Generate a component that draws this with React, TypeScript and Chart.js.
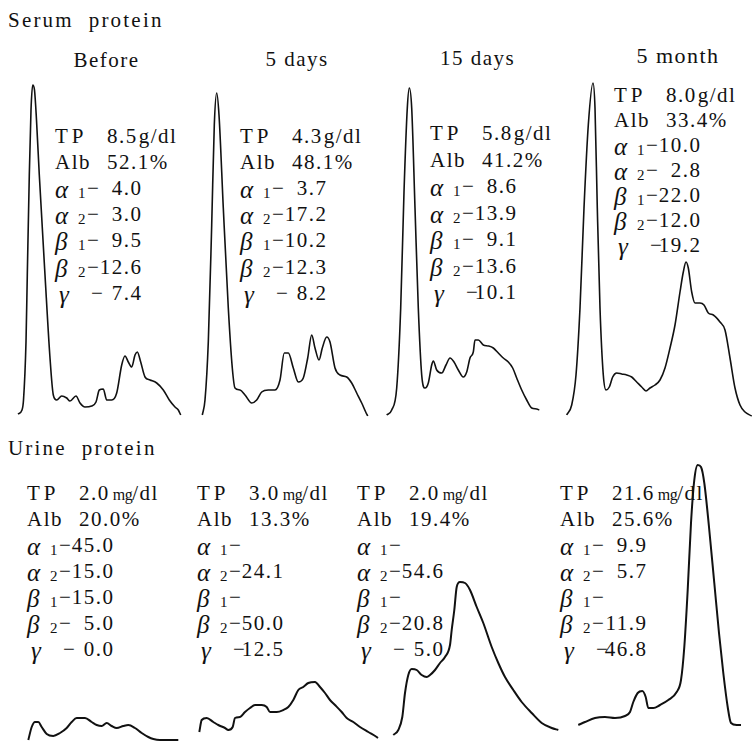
import React, { useEffect, useRef } from "react";
import { Chart, registerables } from "chart.js";

Chart.register(...registerables);

// ---- Densitometry traces (x: migration distance, y: relative density) ----
const serumBeforeTrace: number[][] = [
  [8, 6], [12, 10], [13.5, 20], [16, 78], [17.3, 145], [19.3, 245], [21, 310], [22.7, 335], [24.5, 330],
  [26.5, 300], [29.3, 245], [35, 145], [40, 62], [43.3, 25], [46.7, 20], [51.7, 24], [56.7, 22], [60, 19],
  [66, 24], [70, 17], [75, 13], [81.7, 14], [86, 18], [89.3, 30], [93.3, 31], [96.7, 20], [101.7, 20],
  [106.7, 27], [111.7, 55], [115, 64], [118.3, 58], [121.7, 53], [125, 65], [127.3, 68], [130.7, 58],
  [135, 43], [140, 40], [146.7, 37], [153.3, 30], [159.3, 20], [165, 13], [168.3, 10], [170.7, 5],
];
const serum5dTrace: number[][] = [
  [7.3, 5], [10, 20], [13.3, 78], [16.7, 195], [19.3, 295], [21.7, 327], [24, 305], [28.3, 212], [33.3, 112],
  [37.3, 52], [40, 32], [45, 30], [50, 25], [56.7, 17], [61.7, 20], [66.7, 28], [73.3, 30], [80, 30], [85, 40],
  [89.3, 67], [93.3, 67], [98.3, 52], [103.3, 38], [108.3, 42], [112.7, 62], [116.7, 85], [120, 72], [124, 60],
  [127.3, 72], [131.7, 83], [135, 78], [140, 52], [145, 45], [151.7, 43], [156.7, 37], [161.7, 27], [166.7, 17],
  [170.7, 8], [172.7, 4],
];
const serum15dTrace: number[][] = [
  [6.7, 5], [11.7, 10], [16.7, 32], [20.7, 112], [24, 228], [27.3, 312], [29.3, 332], [31.7, 312], [35, 212],
  [38.3, 112], [41.7, 45], [45, 32], [48.3, 37], [51.7, 55], [53.3, 59], [56.7, 50], [61.7, 47], [66, 55],
  [70, 62], [74, 58], [78.3, 50], [83.3, 43], [86.7, 48], [90, 62], [93.3, 68], [95, 80], [98.3, 80],
  [103.3, 75], [108.3, 74], [113.3, 72], [118.3, 67], [123.3, 62], [128.3, 58], [132.7, 52], [136.7, 42],
  [141.7, 30], [146.7, 20], [151.7, 12], [156.7, 11], [159.3, 10],
];
const serum5mTrace: number[][] = [
  [6.7, 5], [11.7, 15], [16, 45], [20, 112], [24, 212], [28.3, 295], [33, 337], [35, 312], [37.3, 212],
  [40, 112], [43.3, 45], [46, 30], [49.3, 33], [52.7, 43], [56.7, 47], [61.7, 46], [66.7, 45], [71.7, 43],
  [76.7, 38], [81.7, 33], [86, 29], [90, 32], [95, 35], [100, 40], [105, 52], [110, 72], [115, 95], [120, 128],
  [123.3, 148], [126, 158], [128.3, 152], [131.7, 128], [135, 117], [140, 117], [144, 115], [148.3, 107],
  [153.3, 105], [160, 98], [165, 90], [170, 62], [175, 32], [180, 15], [185, 8], [191.7, 4],
];
const urineBeforeTrace: number[][] = [
  [18.3, 2], [21.7, 15], [25, 20], [28.3, 20], [31.7, 15], [36.7, 8], [43.3, 6], [50, 9], [56.7, 14],
  [61.7, 20], [66.7, 24], [75, 24], [81.7, 20], [86.7, 17], [91.7, 16], [96.7, 19], [101.7, 16], [106.7, 14],
  [113.3, 16], [118.3, 17], [125, 14], [131.7, 9], [138.3, 5], [143.3, 3], [150, 2], [160, 2], [168.3, 2],
];
const urine5dTrace: number[][] = [
  [9.3, 10], [11.7, 22], [16.7, 24], [23.3, 20], [28.3, 17], [35, 14], [38.3, 12], [42.7, 15], [45, 24],
  [50, 25], [55, 30], [60, 34], [65, 37], [71.7, 37], [76.7, 35], [80, 30], [86.7, 30], [93.3, 32],
  [98.3, 35], [103.3, 42], [108.3, 52], [113.3, 55], [118.3, 59], [125, 60], [130, 55], [135, 49], [140, 42],
  [145, 37], [151.7, 30], [156.7, 24], [163.3, 20], [170, 15], [178.3, 10], [186.7, 5], [188, 4],
];
const urine15dTrace: number[][] = [
  [13.3, 7], [18.3, 12], [22.3, 25], [25, 49], [28.3, 67], [31.7, 73], [36.7, 72], [41.7, 67], [46.7, 65],
  [50, 67], [55, 72], [60, 79], [65, 85], [70, 97], [71.7, 112], [74.3, 132], [76.7, 155], [80, 160],
  [85, 159], [90, 152], [96.7, 135], [103.3, 119], [111.7, 95], [118.3, 79], [125, 65], [133.3, 52],
  [141.7, 40], [151.7, 29], [161.7, 19], [171.7, 14], [178.3, 12],
];
const urine5mTrace: number[][] = [
  [13.3, 17], [20, 20], [30, 24], [40, 25], [50, 24], [60, 26], [65, 30], [68.3, 40], [72.7, 49], [77.3, 51],
  [80.7, 45], [83.3, 34], [88.3, 34], [95, 37], [103.3, 42], [111.7, 50], [116, 62], [119.3, 95], [122.7, 152],
  [126, 219], [129.3, 262], [132.7, 277], [136, 275], [139.3, 259], [144, 215], [149.3, 159], [154, 109],
  [158.3, 69], [162.7, 35], [166, 19], [171.7, 17], [176, 17],
];

// ---- Text values ----
const serumTitles = ["Before", "5 days", "15 days", "5 month"];
const serumTP = ["8.5", "4.3", "5.8", "8.0"];
const serumAlb = ["52.1", "48.1", "41.2", "33.4"];
const serumAlpha1 = ["4.0", "3.7", "8.6", "10.0"];
const serumAlpha2 = ["3.0", "17.2", "13.9", "2.8"];
const serumBeta1 = ["9.5", "10.2", "9.1", "22.0"];
const serumBeta2 = ["12.6", "12.3", "13.6", "12.0"];
const serumGamma = ["7.4", "8.2", "10.1", "19.2"];

const urineTP = ["2.0", "3.0", "2.0", "21.6"];
const urineAlb = ["20.0", "13.3", "19.4", "25.6"];
const urineAlpha1 = ["45.0", "", "", "9.9"];
const urineAlpha2 = ["15.0", "24.1", "54.6", "5.7"];
const urineBeta1 = ["15.0", "", "", ""];
const urineBeta2 = ["5.0", "50.0", "20.8", "11.9"];
const urineGamma = ["0.0", "12.5", "5.0", "46.8"];

const FONT = "'Liberation Serif', 'DejaVu Serif', serif";

type TraceProps = { left: number; top: number; width: number; height: number; data: number[][]; lineWidth: number };

function Trace({ left, top, width, height, data, lineWidth }: TraceProps) {
  const ref = useRef<HTMLCanvasElement>(null);
  useEffect(() => {
    if (!ref.current) return;
    const chart = new Chart(ref.current, {
      type: "line",
      data: {
        datasets: [
          {
            data: data.map(([x, y]) => ({ x, y })),
            borderColor: "#111",
            borderWidth: lineWidth,
            pointRadius: 0,
            cubicInterpolationMode: "monotone",
            fill: false,
          },
        ],
      },
      options: {
        animation: false,
        responsive: false,
        maintainAspectRatio: false,
        events: [],
        layout: { padding: 0 },
        plugins: { legend: { display: false }, tooltip: { enabled: false }, title: { display: false } },
        scales: {
          x: { type: "linear", min: 0, max: width, display: false },
          y: { type: "linear", min: 0, max: height, display: false },
        },
      },
    });
    return () => chart.destroy();
  }, []);
  return (
    <canvas
      ref={ref}
      width={width}
      height={height}
      style={{ position: "absolute", left, top, width, height }}
    />
  );
}

type TxtProps = {
  x: number;
  y: number;
  children: React.ReactNode;
  size?: number;
  align?: "left" | "right" | "center";
  ls?: number;
  italic?: boolean;
};

function Txt({ x, y, children, size = 21, align = "left", ls = 1.5, italic = false }: TxtProps) {
  const base: React.CSSProperties = {
    position: "absolute",
    top: y,
    lineHeight: 0,
    fontSize: size,
    fontFamily: FONT,
    whiteSpace: "nowrap",
    letterSpacing: ls,
    color: "#111",
    fontStyle: italic ? "italic" : "normal",
  };
  if (align === "left") return <div style={{ ...base, left: x }}>{children}</div>;
  if (align === "right")
    return (
      <div style={{ ...base, left: x - 300 + ls, width: 300, textAlign: "right" }}>{children}</div>
    );
  return <div style={{ ...base, left: x - 150, width: 300, textAlign: "center" }}>{children}</div>;
}

type BlockProps = {
  x0: number;
  y0: number;
  dy: number;
  tp: string;
  unit: "g" | "mg";
  alb: string;
  fr: string[];
};

function Block({ x0, y0, dy, tp, unit, alb, fr }: BlockProps) {
  const greek = ["α", "α", "β", "β", "γ"];
  const subs = ["1", "2", "1", "2", ""];
  return (
    <>
      <Txt x={x0} y={y0} ls={4}>TP</Txt>
      <Txt x={x0 + 52} y={y0}>
        {tp}
        {unit === "g" ? (
          <span style={{ marginLeft: 1 }}>g/dl</span>
        ) : (
          <span style={{ marginLeft: 3 }}>
            <span style={{ fontSize: 16, letterSpacing: -0.5 }}>mg</span>/dl
          </span>
        )}
      </Txt>
      <Txt x={x0} y={y0 + dy}>Alb</Txt>
      <Txt x={x0 + 52} y={y0 + dy}>{alb}%</Txt>
      {greek.map((g, i) => {
        const y = y0 + dy * (i + 2);
        return (
          <React.Fragment key={i}>
            <Txt x={x0 + (g === "γ" ? 4 : 0)} y={y + 2} size={25} italic ls={0}>{g}</Txt>
            {subs[i] && <Txt x={x0 + 23} y={y + 5} size={15} ls={0}>{subs[i]}</Txt>}
            <Txt x={x0 + (g === "γ" ? 36 : 32)} y={y} ls={0}>−</Txt>
            {fr[i] && <Txt x={x0 + 86} y={y} align="right">{fr[i]}</Txt>}
          </React.Fragment>
        );
      })}
    </>
  );
}

export default function App() {
  const serumBlocks = [
    { x0: 55, y0: 136, dy: 26.1 },
    { x0: 240, y0: 136, dy: 26.1 },
    { x0: 430, y0: 133, dy: 26.5 },
    { x0: 614, y0: 95, dy: 25 },
  ];
  const urineBlocks = [{ x0: 27 }, { x0: 197 }, { x0: 357 }, { x0: 560 }];
  const titleX = [106.5, 297, 477.5, 678];
  const titleY = [59.5, 58.5, 58, 56];
  const serumTraces = [serumBeforeTrace, serum5dTrace, serum15dTrace, serum5mTrace];
  const serumLeft = [10, 195, 380, 560];
  const serumW = [180, 180, 185, 195];
  const urineTraces = [urineBeforeTrace, urine5dTrace, urine15dTrace, urine5mTrace];
  const urineLeft = [10, 190, 380, 565];
  const urineW = [180, 190, 185, 190];

  return (
    <div
      style={{
        position: "absolute",
        left: 0,
        top: 0,
        width: 755,
        height: 742,
        background: "#fff",
        overflow: "hidden",
      }}
    >
      <Txt x={8} y={19.5} ls={2.2}>Serum&nbsp;&nbsp;protein</Txt>
      {serumTitles.map((t, i) => (
        <Txt key={t} x={titleX[i]} y={titleY[i]} align="center" size={i === 3 ? 22 : 21}>
          {t}
        </Txt>
      ))}
      {serumBlocks.map((b, i) => (
        <Block
          key={"s" + i}
          x0={b.x0}
          y0={b.y0}
          dy={b.dy}
          tp={serumTP[i]}
          unit="g"
          alb={serumAlb[i]}
          fr={[serumAlpha1[i], serumAlpha2[i], serumBeta1[i], serumBeta2[i], serumGamma[i]]}
        />
      ))}
      {serumTraces.map((d, i) => (
        <Trace key={"st" + i} left={serumLeft[i]} top={75} width={serumW[i]} height={345} data={d} lineWidth={1.6} />
      ))}

      <Txt x={8} y={448} ls={2.2}>Urine&nbsp;&nbsp;protein</Txt>
      {urineBlocks.map((b, i) => (
        <Block
          key={"u" + i}
          x0={b.x0}
          y0={493}
          dy={26}
          tp={urineTP[i]}
          unit="mg"
          alb={urineAlb[i]}
          fr={[urineAlpha1[i], urineAlpha2[i], urineBeta1[i], urineBeta2[i], urineGamma[i]]}
        />
      ))}
      {urineTraces.map((d, i) => (
        <Trace key={"ut" + i} left={urineLeft[i]} top={440} width={urineW[i]} height={302} data={d} lineWidth={2} />
      ))}
    </div>
  );
}
